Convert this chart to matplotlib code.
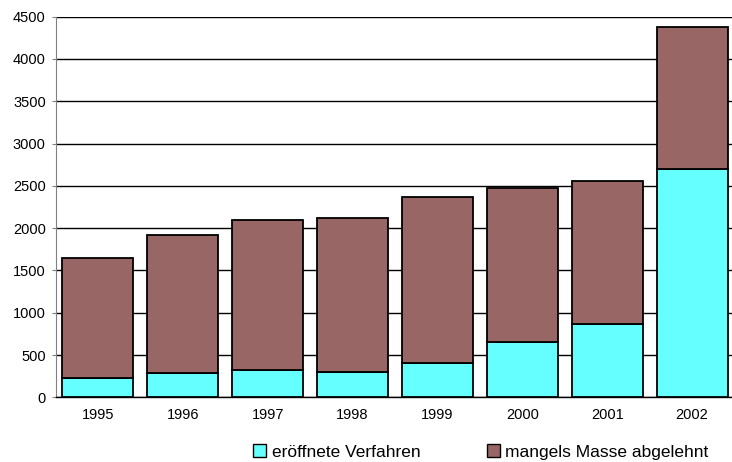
import matplotlib
matplotlib.use("Agg")
import matplotlib.pyplot as plt
import numpy as np
from matplotlib.patches import Patch

plt.rcParams['font.family'] = ['Liberation Sans', 'DejaVu Sans']

years = ['1995', '1996', '1997', '1998', '1999', '2000', '2001', '2002']
eroeffnet = [232, 291, 319, 303, 409, 657, 866, 2702]
abgelehnt = [1418, 1627, 1773, 1813, 1955, 1821, 1694, 1675]
labels = ['eröffnete Verfahren', 'mangels Masse abgelehnt']
yticks = [0, 500, 1000, 1500, 2000, 2500, 3000, 3500, 4000, 4500]

c1 = '#66FFFF'
c2 = '#996666'

fig = plt.figure(figsize=(7.32, 4.62), dpi=100)
ax = fig.add_axes([55.5/732, 1 - 397.3/462, 679/732, (397.3 - 16.7)/462])

x = np.arange(len(years))
ax.bar(x, eroeffnet, width=0.836, color=c1, edgecolor='black', linewidth=1.3, zorder=3)
ax.bar(x, abgelehnt, bottom=eroeffnet, width=0.836, color=c2, edgecolor='black', linewidth=1.3, zorder=3)

ax.set_ylim(0, 4500)
ax.set_xlim(-0.5, len(years) - 0.5)
ax.set_yticks(yticks)
ax.set_yticklabels([str(v) for v in yticks], fontsize=10.5)
ax.set_xticks(x)
ax.set_xticklabels(years, fontsize=10.5)
ax.tick_params(axis='x', length=0, pad=8)
ax.tick_params(axis='y', length=3, color='#808080', pad=4)
ax.yaxis.grid(True, color='black', linewidth=1.0, zorder=0)
ax.set_axisbelow(True)
for s in ['top', 'right']:
    ax.spines[s].set_visible(False)
ax.spines['left'].set_color('#808080')
ax.spines['bottom'].set_color('black')
ax.spines['bottom'].set_linewidth(1.0)

handles = [Patch(facecolor=c1, edgecolor='black', linewidth=1.0),
           Patch(facecolor=c2, edgecolor='black', linewidth=1.0)]
fig.legend(handles, labels, loc='center', bbox_to_anchor=(481/732, 1 - 452/462),
           ncol=2, frameon=False, fontsize=12.5, handlelength=0.75, handleheight=0.75,
           handletextpad=0.3, columnspacing=3.85)

fig.savefig('out.png', dpi=100)
